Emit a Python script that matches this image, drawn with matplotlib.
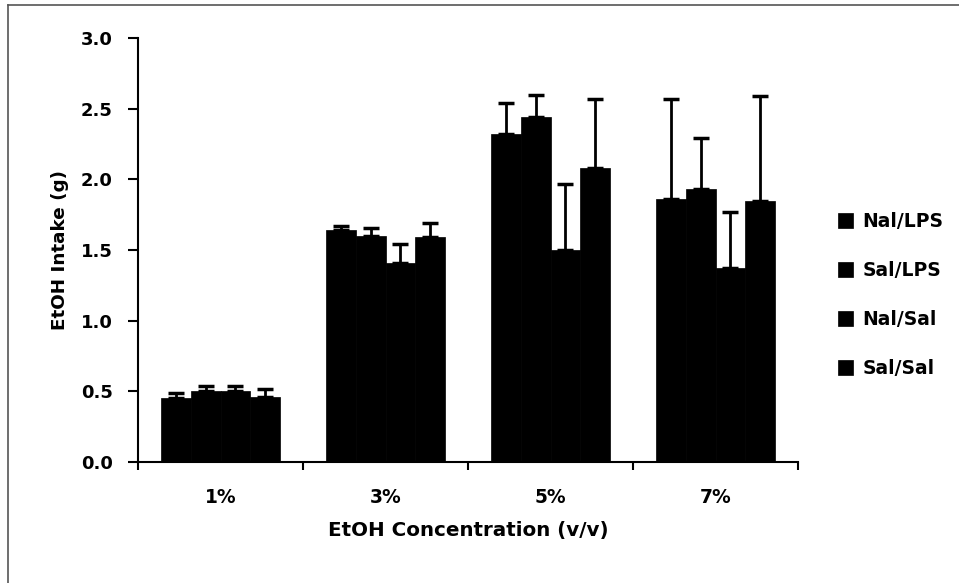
import matplotlib
matplotlib.use("Agg")
import matplotlib.pyplot as plt
import numpy as np
from matplotlib.lines import Line2D

plt.rcParams['font.family'] = ['DejaVu Sans']

categories = ['1%', '3%', '5%', '7%']
series_names = ['Nal/LPS', 'Sal/LPS', 'Nal/Sal', 'Sal/Sal']
nal_lps = [0.45, 1.64, 2.32, 1.86]
sal_lps = [0.50, 1.60, 2.44, 1.93]
nal_sal = [0.50, 1.41, 1.50, 1.37]
sal_sal = [0.46, 1.59, 2.08, 1.85]
nal_lps_err = [0.04, 0.03, 0.22, 0.71]
sal_lps_err = [0.035, 0.055, 0.16, 0.36]
nal_sal_err = [0.035, 0.13, 0.47, 0.40]
sal_sal_err = [0.06, 0.10, 0.49, 0.74]
y_ticks = [0.0, 0.5, 1.0, 1.5, 2.0, 2.5, 3.0]

values = [nal_lps, sal_lps, nal_sal, sal_sal]
errors = [nal_lps_err, sal_lps_err, nal_sal_err, sal_sal_err]

fig = plt.figure(figsize=(9.59, 5.83), dpi=100)
ax = fig.add_axes([138/959, 1-462/583, (798-138)/959, (462-38)/583])

x = np.arange(len(categories))
group_w = 0.727
bw = group_w / 4
for i, (vals, errs) in enumerate(zip(values, errors)):
    pos = x - group_w/2 + bw*(i+0.5)
    ax.bar(pos, vals, width=bw, color='black', edgecolor='black', linewidth=0.5,
           label=series_names[i], zorder=2)
    ax.errorbar(pos, vals, yerr=[np.zeros(len(vals)), errs], fmt='none',
                ecolor='black', elinewidth=2, capsize=6, capthick=2.5, zorder=3)

ax.set_xlim(-0.5, len(categories)-0.5)
ax.set_ylim(0, 3.0)
ax.set_yticks(y_ticks)
ax.set_yticklabels([f'{t:.1f}' for t in y_ticks], fontsize=13, fontweight='bold')
ax.set_xticks(x)
ax.set_xticklabels(categories, fontsize=13.4, fontweight='bold')
ax.set_xticks(np.arange(len(categories)+1) - 0.5, minor=True)
ax.tick_params(axis='x', which='major', length=0, pad=19)
ax.tick_params(axis='x', which='minor', length=6, width=1.5, direction='out')
ax.tick_params(axis='y', length=7, width=1.5, direction='out', pad=11)

for s in ['top', 'right']:
    ax.spines[s].set_visible(False)
for s in ['left', 'bottom']:
    ax.spines[s].set_linewidth(1.5)

ax.set_ylabel('EtOH Intake (g)', fontsize=13.2, fontweight='bold', labelpad=9)
ax.set_xlabel('EtOH Concentration (v/v)', fontsize=14.3, fontweight='bold', labelpad=10)

leg = fig.legend(loc='center left', bbox_to_anchor=(0.874, 0.494), frameon=False,
                 prop={'size': 13.5, 'weight': 'bold'},
                 handlelength=0.8, handleheight=0.8, labelspacing=1.6,
                 handletextpad=0.48, borderpad=0, borderaxespad=0)

# figure border lines (top and left)
fig.add_artist(Line2D([8/959, 1], [1-5/583, 1-5/583], color='#555555', lw=1.2))
fig.add_artist(Line2D([8/959, 8/959], [0, 1-5/583], color='#555555', lw=1.2))

fig.savefig('out.png', dpi=100)
